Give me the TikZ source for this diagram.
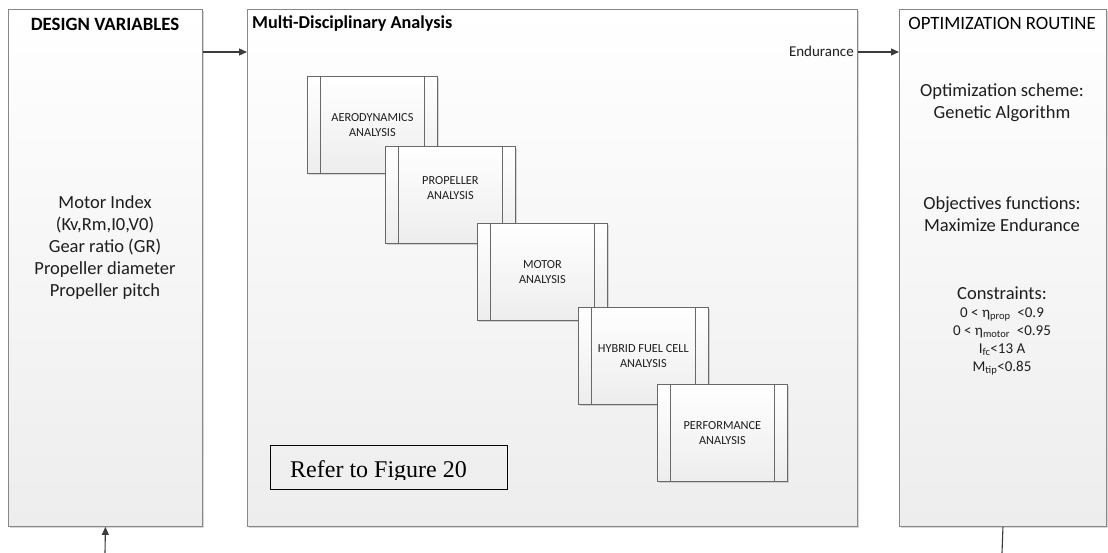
\documentclass[tikz,border=0pt]{standalone}
\usepackage{fontspec}
\setmainfont{Carlito}
\newfontfamily\timesfont{Liberation Serif}
\usetikzlibrary{shadows,arrows.meta}
\definecolor{edgec}{RGB}{135,135,135}
\definecolor{procedge}{RGB}{105,105,105}
\definecolor{arrowc}{RGB}{60,60,60}
\definecolor{fillbot}{RGB}{237,237,237}
\definecolor{textc}{RGB}{30,30,30}
\tikzset{
  shad/.style={drop shadow={shadow xshift=1.5pt, shadow yshift=-1.5pt, opacity=0.3, fill=gray}},
  bigbox/.style={draw=edgec, line width=0.9pt, top color=white, bottom color=fillbot,
    anchor=north west, inner sep=0pt, shad},
  procbox/.style={draw=procedge, line width=0.8pt, top color=white, bottom color=fillbot,
    anchor=north west, minimum width=130pt, minimum height=97pt, inner sep=0pt, shad,
    align=center, text=textc, font=\fontsize{12.3}{15}\selectfont},
  strip/.style={draw=procedge, line width=0.8pt},
  title/.style={font=\fontsize{18.8}{22}\selectfont\bfseries, text=black, inner sep=0pt},
  body/.style={font=\fontsize{18.5}{22.2}\selectfont, text=textc, align=center, inner sep=0pt},
  small/.style={font=\fontsize{15}{18.2}\selectfont, text=textc, align=center, inner sep=0pt},
  arr/.style={draw=arrowc, line width=1.1pt, -{Triangle[length=8pt,width=7pt]}},
  plainline/.style={draw=arrowc, line width=1.1pt},
  referbox/.style={draw=black, line width=1.2pt, anchor=north west, minimum width=237pt,
    minimum height=44pt, inner sep=0pt}
}
\begin{document}
\begin{tikzpicture}[x=1pt,y=-1pt]
\useasboundingbox (0,0) rectangle (1108,553);
\fill[white] (0,0) rectangle (1108,553);

% outer boxes
\node[bigbox, minimum width=194pt, minimum height=517pt] (dv) at (8,9) {};
\node[bigbox, minimum width=610pt, minimum height=517pt] (mda) at (247,9) {};
\node[bigbox, minimum width=207pt, minimum height=517pt] (opt) at (899,9) {};

% titles
\node[title] (dvt) at (105,24) {DESIGN VARIABLES};
\node[title, anchor=west, font=\fontsize{18.2}{22}\selectfont\bfseries] (mdat) at (252,24) {Multi-Disciplinary Analysis};
\node[title, font=\fontsize{18.8}{22}\selectfont] (optt) at (1002,23) {OPTIMIZATION ROUTINE};

% design variables text
\node[body] (dvtext) at (105,247.5) {Motor Index\\(Kv,Rm,I0,V0)\\Gear ratio (GR)\\Propeller diameter\\Propeller pitch};

% optimization text
\node[body] (scheme) at (1002,102.5) {Optimization scheme:\\Genetic Algorithm};
\node[body] (obj) at (1002,214) {Objectives functions:\\Maximize Endurance};
\node[body] (cons) at (1002,293) {Constraints:};
\node[small] (conslist) at (1002,341.5) {0 < η\textsubscript{prop}\ \ <0.9\\0 < η\textsubscript{motor}\ \ <0.95\\I\textsubscript{fc}<13 A\\M\textsubscript{tip}<0.85};

% analysis boxes
\node[procbox] (aero) at (307,76) {AERODYNAMICS\\ANALYSIS};
\draw[strip] ([xshift=13.5pt]aero.north west) -- ([xshift=13.5pt]aero.south west);
\draw[strip] ([xshift=-13.5pt]aero.north east) -- ([xshift=-13.5pt]aero.south east);

\node[procbox] (prop) at (385,146) {};
\draw[strip] ([xshift=13.5pt]prop.north west) -- ([xshift=13.5pt]prop.south west);
\draw[strip] ([xshift=-13.5pt]prop.north east) -- ([xshift=-13.5pt]prop.south east);
\node[align=center, text=textc, font=\fontsize{12.3}{15}\selectfont, inner sep=0pt] (proptext) at ([yshift=7pt]prop.center) {PROPELLER\\ANALYSIS};

\node[procbox] (motor) at (477,223) {MOTOR\\ANALYSIS};
\draw[strip] ([xshift=13.5pt]motor.north west) -- ([xshift=13.5pt]motor.south west);
\draw[strip] ([xshift=-13.5pt]motor.north east) -- ([xshift=-13.5pt]motor.south east);

\node[procbox] (hyb) at (578,307) {HYBRID FUEL CELL\\ANALYSIS};
\draw[strip] ([xshift=13.5pt]hyb.north west) -- ([xshift=13.5pt]hyb.south west);
\draw[strip] ([xshift=-13.5pt]hyb.north east) -- ([xshift=-13.5pt]hyb.south east);

\node[procbox] (perf) at (657,384) {PERFORMANCE\\ANALYSIS};
\draw[strip] ([xshift=13.5pt]perf.north west) -- ([xshift=13.5pt]perf.south west);
\draw[strip] ([xshift=-13.5pt]perf.north east) -- ([xshift=-13.5pt]perf.south east);

% refer box
\node[referbox] (refer) at (270,445) {};
\begin{scope}
  \clip (271,446) rectangle (506,479.5);
  \node[anchor=base west, inner sep=0pt, font=\timesfont\fontsize{24}{28}\selectfont] (refertext) at (290,477) {Refer to Figure 20};
\end{scope}

% endurance label
\node[anchor=east, inner sep=1pt, font=\fontsize{15}{18}\selectfont, text=textc] (endu) at (855,51) {Endurance};

% connectors
\coordinate (y52) at (0,52);
\coordinate (fb1) at (105,553);
\coordinate (fb2) at (1002,553);
\draw[arr] (dv.east |- y52) -- (mda.west |- y52);
\draw[arr] (mda.east |- y52) -- (opt.west |- y52);
\draw[arr] (fb1) -- (dv.south);
\draw[plainline] (opt.south) -- (fb2);
\end{tikzpicture}
\end{document}
